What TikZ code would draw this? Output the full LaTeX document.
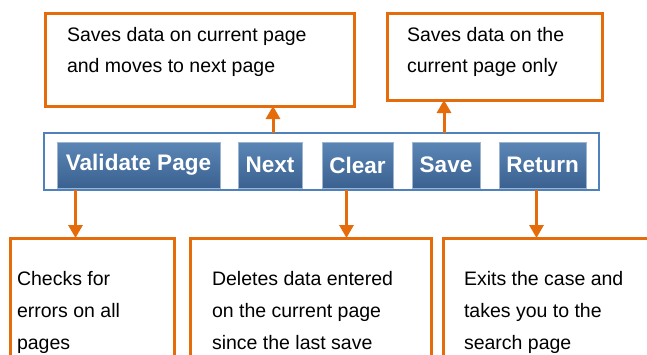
\documentclass[tikz,border=0pt]{standalone}
\usepackage{fontspec}
\setmainfont{Liberation Sans}
\usepackage{tikz}
\usetikzlibrary{arrows.meta,positioning}
\definecolor{callout}{HTML}{E46C0A}
\definecolor{barblue}{HTML}{4F81BD}
\definecolor{btntop}{HTML}{5A86B6}
\definecolor{btnbot}{HTML}{3B6190}
\definecolor{btnedge}{HTML}{9DB5CF}
\tikzset{
  note/.style={rectangle, draw=callout, line width=3pt, inner sep=0pt, outer sep=0pt, anchor=north west},
  notetxt/.style={anchor=north west, inner sep=0pt, outer sep=0pt, align=left, text=black, font=\fontsize{19.5}{31}\selectfont},
  notetxtb/.style={notetxt, font=\fontsize{19.5}{32}\selectfont},
  bar/.style={rectangle, draw=barblue, line width=1.6pt, inner sep=0pt, outer sep=0pt, anchor=north west, minimum width=555pt, minimum height=57pt},
  btn/.style={rectangle, draw=btnedge, line width=0.6pt, top color=btntop, bottom color=btnbot, text=white, inner sep=0pt, minimum height=46pt, font=\fontsize{22.5}{24}\selectfont\bfseries},
  arr/.style={draw=callout, line width=3pt, -{Triangle[width=14pt,length=13pt]}}
}
\begin{document}
\begin{tikzpicture}[x=1pt,y=1pt]
  \useasboundingbox (0,0) rectangle (647,-354);
  \clip (0,0) rectangle (647,-354);

  \node[bar] (bar) at (44,-133) {};

  \node[btn, minimum width=163pt] (validate) at (138.5,-165) {Validate Page};
  \node[btn, minimum width=64pt]  (next)     at (270,-165)   {Next};
  \node[btn, minimum width=71pt]  (clear)    at (357.5,-165) {Clear};
  \node[btn, minimum width=68pt]  (save)     at (446,-165)   {Save};
  \node[btn, minimum width=87pt]  (return)   at (542.5,-165) {Return};

  \node[note, minimum width=309pt, minimum height=93pt]  (nnext)   at (45,-13)  {};
  \node[note, minimum width=215pt, minimum height=87pt]  (nsave)   at (387,-13) {};
  \node[note, minimum width=164pt, minimum height=140pt] (nvalid)  at (10,-238) {};
  \node[note, minimum width=241pt, minimum height=140pt] (nclear)  at (190,-238) {};
  \node[note, minimum width=240pt, minimum height=140pt] (nreturn) at (443,-238) {};

  \node[notetxt, below right=14pt and 22pt of nnext.north west] (tnext) {Saves data on current page\\and moves to next page};
  \node[notetxt, below right=14pt and 20pt of nsave.north west] (tsave) {Saves data on the\\current page only};
  \node[notetxtb, below right=33pt and 7pt of nvalid.north west] (tvalid) {Checks for\\errors on all\\pages};
  \node[notetxtb, below right=33pt and 22pt of nclear.north west] (tclear) {Deletes data entered\\on the current page\\since the last save};
  \node[notetxtb, below right=33pt and 21pt of nreturn.north west] (treturn) {Exits the case and\\takes you to the\\search page};

  \coordinate (xnext)   at (273,0);
  \coordinate (xsave)   at (444,0);
  \coordinate (xvalid)  at (75.5,0);
  \coordinate (xclear)  at (346.5,0);
  \coordinate (xreturn) at (536.5,0);

  \draw[arr] (bar.north -| xnext) -- (nnext.south -| xnext);
  \draw[arr] (bar.north -| xsave) -- (nsave.south -| xsave);
  \draw[arr] (bar.south -| xvalid) -- (nvalid.north -| xvalid);
  \draw[arr] (bar.south -| xclear) -- (nclear.north -| xclear);
  \draw[arr] (bar.south -| xreturn) -- (nreturn.north -| xreturn);
\end{tikzpicture}
\end{document}
